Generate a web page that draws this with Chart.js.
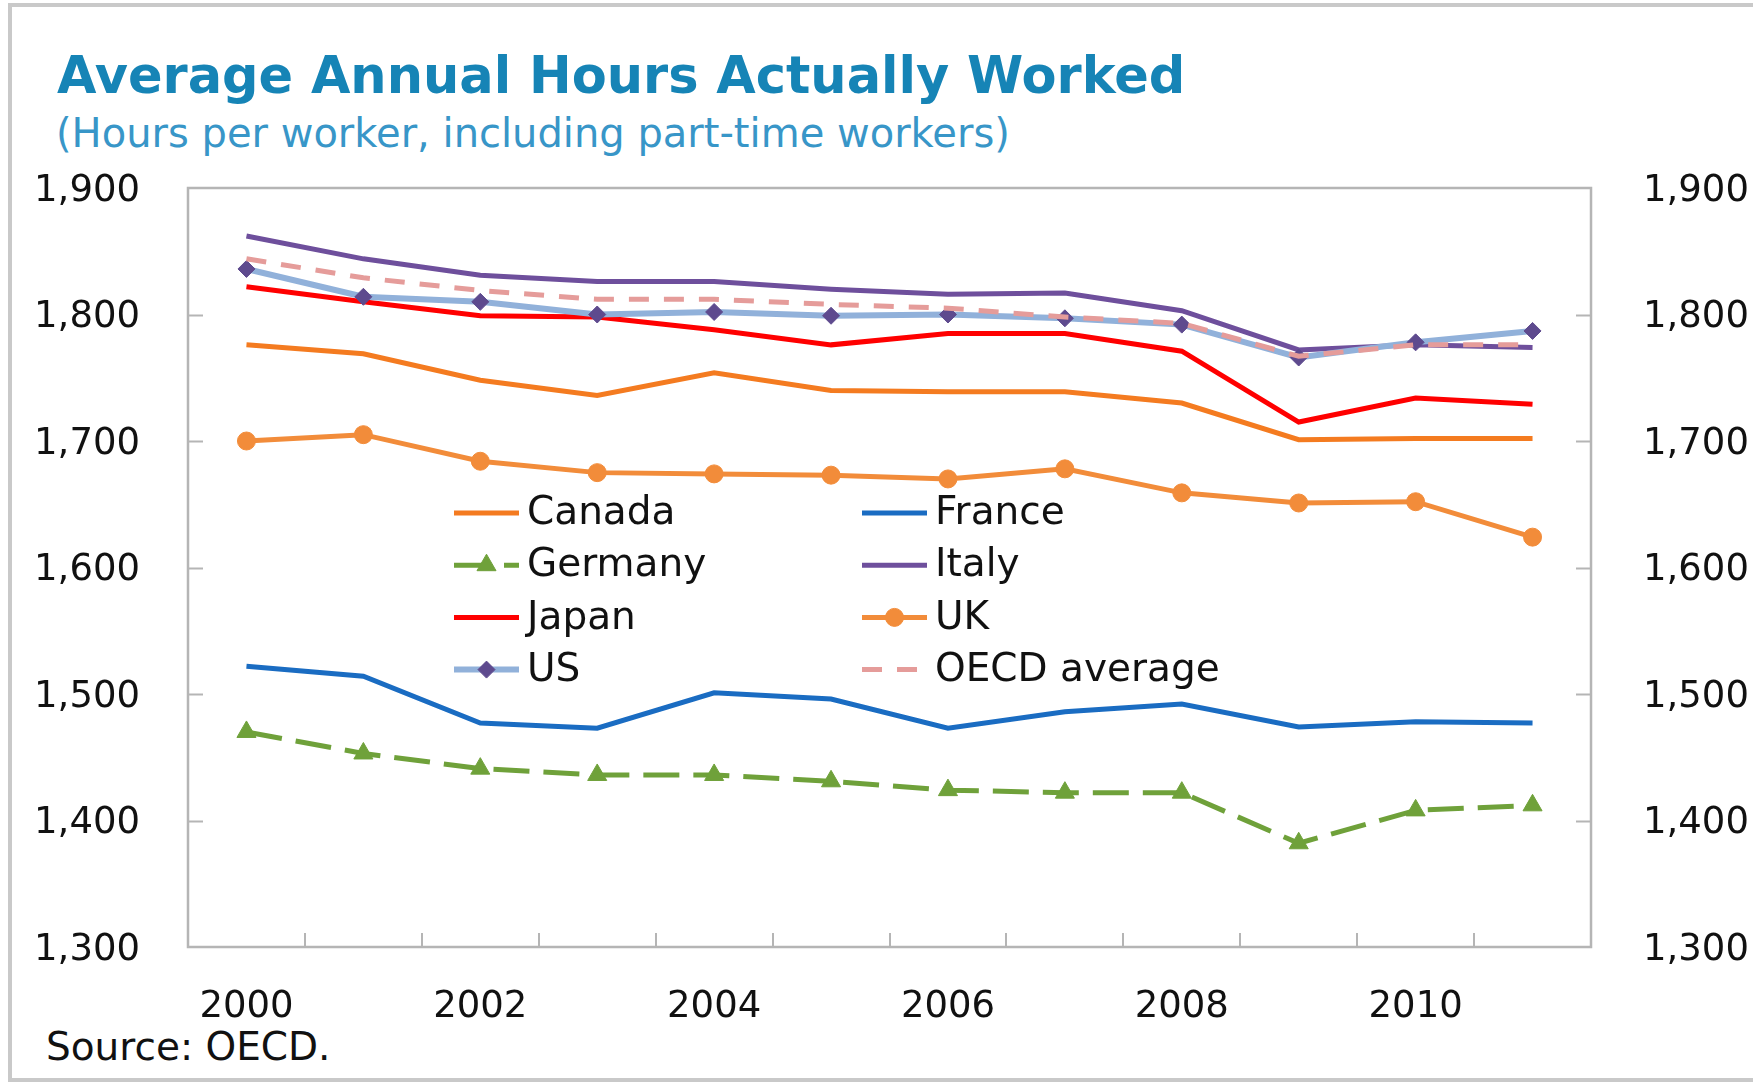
<!DOCTYPE html>
<html>
<head>
<meta charset="utf-8">
<script src="https://cdn.jsdelivr.net/npm/chart.js@4"></script>
<style>
  html, body { margin: 0; padding: 0; background: #ffffff; overflow: hidden; width: 1753px; height: 1082px; }
  #frame { position: absolute; left: 8px; top: 3px; width: 1800px; height: 1079px; border: 4px solid #c9c9c9; box-sizing: border-box; }
  .txt { position: absolute; white-space: nowrap; line-height: 1; font-family: 'DejaVu Sans', sans-serif; }
  #title { left: 57px; top: 50px; font-size: 51px; font-weight: bold; color: #1684b6; }
  #subtitle { left: 56px; top: 113px; font-size: 40px; color: #3896c8; }
  #source { left: 46px; top: 1027px; font-size: 39px; color: #111111; }
  #chart { position: absolute; left: 0; top: 0; }
</style>
</head>
<body>
<div id="frame"></div>
<div id="title" class="txt">Average Annual Hours Actually Worked</div>
<div id="subtitle" class="txt">(Hours per worker, including part-time workers)</div>
<div id="source" class="txt">Source: OECD.</div>
<canvas id="chart" width="1753" height="1082"></canvas>
<script>
// ---- Data ----
const years = ['2000','2001','2002','2003','2004','2005','2006','2007','2008','2009','2010','2011'];
const seriesNames = ['Canada','France','Germany','Italy','Japan','UK','US','OECD average'];
const canada  = [1776, 1769, 1748, 1736, 1754, 1740, 1739, 1739, 1730, 1701, 1702, 1702];
const france  = [1522, 1514, 1477, 1473, 1501, 1496, 1473, 1486, 1492, 1474, 1478, 1477];
const germany = [1470, 1453, 1441, 1436, 1436, 1431, 1424, 1422, 1422, 1382, 1408, 1412];
const italy   = [1862, 1844, 1831, 1826, 1826, 1820, 1816, 1817, 1803, 1772, 1776, 1774];
const japan   = [1822, 1810, 1799, 1798, 1788, 1776, 1785, 1785, 1771, 1715, 1734, 1729];
const uk      = [1700, 1705, 1684, 1675, 1674, 1673, 1670, 1678, 1659, 1651, 1652, 1624];
const us      = [1836, 1814, 1810, 1800, 1802, 1799, 1800, 1797, 1792, 1766, 1778, 1787];
const oecd    = [1844, 1829, 1819, 1812, 1812, 1808, 1805, 1798, 1793, 1767, 1776, 1776];
const yTickValues = [1300, 1400, 1500, 1600, 1700, 1800, 1900];
const xLabelEvery = 2;

// ---- Styles ----
const styles = [
  { color: '#f47b20', width: 5, dash: [], point: false },
  { color: '#1a6cc2', width: 5, dash: [], point: false },
  { color: '#6fa13a', width: 5, dash: [36, 14], point: 'triangle', radius: 11, pointColor: '#6fa13a' },
  { color: '#6e4f9c', width: 5, dash: [], point: false },
  { color: '#ff0000', width: 5, dash: [], point: false },
  { color: '#f28c3a', width: 5, dash: [], point: 'circle', radius: 9, pointColor: '#f28c3a' },
  { color: '#91b1da', width: 6, dash: [], point: 'rectRot', radius: 8.5, pointColor: '#5e4a8e' },
  { color: '#e59c9a', width: 5, dash: [20, 15], point: false }
];
const values = [canada, france, germany, italy, japan, uk, us, oecd];

const datasets = seriesNames.map((name, i) => {
  const s = styles[i];
  return {
    label: name,
    data: values[i],
    borderColor: s.color,
    backgroundColor: s.pointColor || s.color,
    borderWidth: s.width,
    borderDash: s.dash,
    pointStyle: s.point || 'circle',
    pointRadius: s.point ? s.radius : 0,
    pointHoverRadius: s.point ? s.radius : 0,
    pointBackgroundColor: s.pointColor || s.color,
    pointBorderColor: s.pointColor || s.color,
    pointBorderWidth: 1,
    tension: 0,
    fill: false,
    order: seriesNames.length - i,
    yAxisID: 'y'
  };
});

const axisColor = '#b5b5b5';
const fontFamily = "'DejaVu Sans', sans-serif";

const frameTicksPlugin = {
  id: 'frameTicks',
  beforeDatasetsDraw(chart) {
    const { ctx, chartArea } = chart;
    const ys = chart.scales.y, xs = chart.scales.x;
    ctx.save();
    ctx.strokeStyle = axisColor;
    ctx.lineWidth = 2.5;
    ctx.setLineDash([]);
    ctx.strokeRect(chartArea.left, chartArea.top, chartArea.right - chartArea.left, chartArea.bottom - chartArea.top);
    ctx.lineWidth = 2;
    const tickLen = 15;
    ys.ticks.forEach(t => {
      if (t.value <= ys.min || t.value >= ys.max) return;
      const py = Math.round(ys.getPixelForValue(t.value)) + 0.5;
      ctx.beginPath();
      ctx.moveTo(chartArea.left, py); ctx.lineTo(chartArea.left + tickLen, py);
      ctx.moveTo(chartArea.right, py); ctx.lineTo(chartArea.right - tickLen, py);
      ctx.stroke();
    });
    for (let i = 0; i < years.length - 1; i++) {
      const px = Math.round((xs.getPixelForTick(i) + xs.getPixelForTick(i + 1)) / 2);
      ctx.beginPath();
      ctx.moveTo(px, chartArea.bottom); ctx.lineTo(px, chartArea.bottom - 14);
      ctx.stroke();
    }
    ctx.restore();
  }
};

const customLegendPlugin = {
  id: 'customLegend',
  afterDatasetsDraw(chart) {
    const { ctx } = chart;
    const colX = [454, 862];
    const sampleW = 65;
    const row0 = 513, rowH = 52.2;
    ctx.save();
    chart.data.datasets.forEach((ds, i) => {
      const col = i % 2, row = Math.floor(i / 2);
      const x0 = colX[col], x1 = x0 + sampleW, y = row0 + row * rowH;
      ctx.strokeStyle = ds.borderColor;
      ctx.lineWidth = ds.borderWidth;
      ctx.setLineDash(ds.borderDash || []);
      ctx.beginPath(); ctx.moveTo(x0, y); ctx.lineTo(x1, y); ctx.stroke();
      ctx.setLineDash([]);
      if (ds.pointRadius > 0) {
        ctx.fillStyle = ds.pointBackgroundColor;
        ctx.strokeStyle = ds.pointBorderColor;
        ctx.lineWidth = 1;
        Chart.helpers.drawPoint(ctx, { pointStyle: ds.pointStyle, radius: ds.pointRadius, rotation: 0, borderWidth: 1 }, (x0 + x1) / 2, y);
      }
      ctx.fillStyle = '#111111';
      ctx.font = '39px ' + fontFamily;
      ctx.textAlign = 'left';
      ctx.textBaseline = 'middle';
      ctx.fillText(ds.label, x1 + 8, y + 1);
    });
    ctx.restore();
  }
};

const yTickCallback = v => yTickValues.includes(v) ? v.toLocaleString('en-US') : '';

new Chart(document.getElementById('chart'), {
  type: 'line',
  data: { labels: years, datasets },
  options: {
    responsive: false,
    animation: false,
    devicePixelRatio: 1,
    layout: { padding: { left: 0, right: 0, top: 188, bottom: 0 } },
    plugins: { legend: { display: false }, tooltip: { enabled: false }, title: { display: false } },
    scales: {
      x: {
        type: 'category',
        offset: true,
        grid: { display: false, drawTicks: false },
        border: { display: false },
        ticks: {
          autoSkip: false, maxRotation: 0, minRotation: 0, padding: 38,
          color: '#111111', font: { family: fontFamily, size: 37 },
          callback: (v, i) => (i % xLabelEvery === 0 ? years[i] : '')
        },
        afterFit: s => { s.height = 135; }
      },
      y: {
        position: 'left',
        min: 1300, max: 1900,
        grid: { display: false, drawTicks: false },
        border: { display: false },
        ticks: { stepSize: 100, padding: 48, labelOffset: 3, color: '#111111', font: { family: fontFamily, size: 37 }, callback: yTickCallback },
        afterFit: s => { s.width = 188; }
      },
      y2: {
        position: 'right',
        min: 1300, max: 1900,
        grid: { display: false, drawTicks: false },
        border: { display: false },
        ticks: { stepSize: 100, padding: 52, labelOffset: 3, color: '#111111', font: { family: fontFamily, size: 37 }, callback: yTickCallback },
        afterFit: s => { s.width = 162; }
      }
    }
  },
  plugins: [frameTicksPlugin, customLegendPlugin]
});
</script>
</body>
</html>
